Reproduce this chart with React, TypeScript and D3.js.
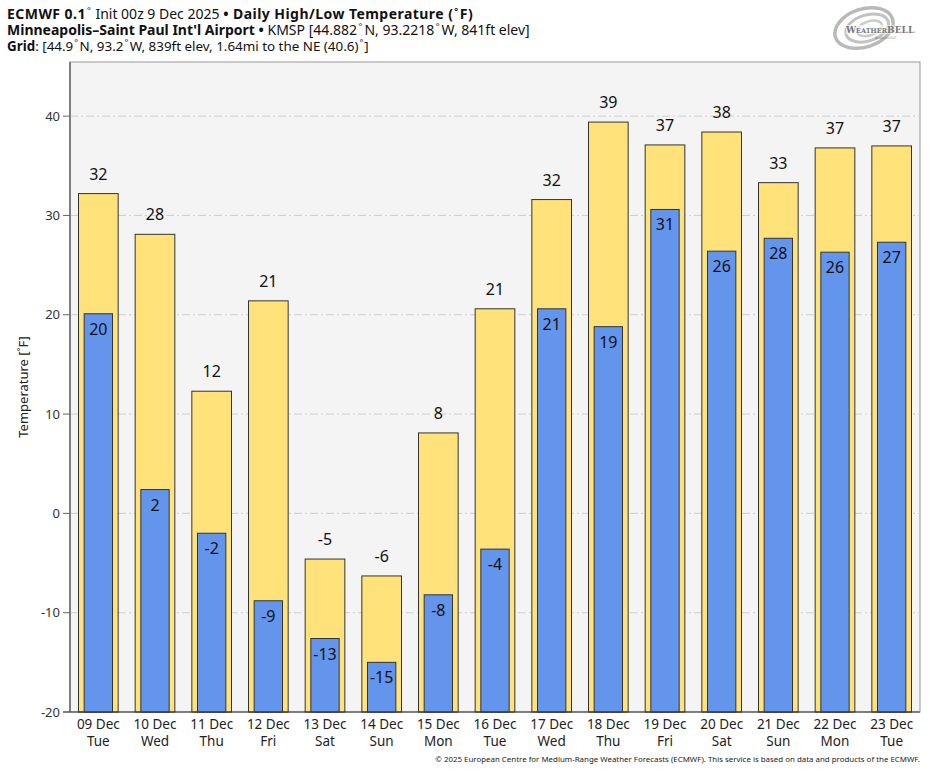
import React from "react";
import * as d3 from "d3";

const days = ["09 Dec", "10 Dec", "11 Dec", "12 Dec", "13 Dec", "14 Dec", "15 Dec", "16 Dec", "17 Dec", "18 Dec", "19 Dec", "20 Dec", "21 Dec", "22 Dec", "23 Dec"];
const weekdays = ["Tue", "Wed", "Thu", "Fri", "Sat", "Sun", "Mon", "Tue", "Wed", "Thu", "Fri", "Sat", "Sun", "Mon", "Tue"];
const highs = [32.2, 28.1, 12.3, 21.4, -4.6, -6.3, 8.1, 20.6, 31.6, 39.4, 37.1, 38.4, 33.3, 36.8, 37.0];
const lows = [20.1, 2.4, -2.0, -8.8, -12.6, -15.0, -8.2, -3.6, 20.6, 18.8, 30.6, 26.4, 27.7, 26.3, 27.3];
const yTicks = [-20, -10, 0, 10, 20, 30, 40];

const W = 929;
const H = 770;
const L = 70, R = 920, T = 62, B = 712;
const FONT = "'Noto Sans', 'Open Sans', sans-serif";

export default function App() {
  const x = d3.scaleBand<string>().domain(days).range([L, R]).paddingInner(0).paddingOuter(0);
  const y = d3.scaleLinear().domain([-20, 45.45]).range([B, T]);
  const bw = x.bandwidth();
  const hiW = bw * 0.7;
  const loW = bw * 0.5;
  const y0 = y(-20);

  return (
    <svg width={W} height={H} style={{ position: "absolute", left: 0, top: 0, background: "#fff" }} fontFamily={FONT}>
      {/* Title line 1 */}
      <text x={7} y={19} fontSize={14} fill="#111">
        <tspan fontWeight="bold" letterSpacing={0.45}>ECMWF 0.1</tspan>
        <tspan fontSize={9} dy={-5} dx={1}>°</tspan>
        <tspan dy={5} dx={1}> Init 00z 9 Dec 2025 </tspan>
        <tspan fontWeight="bold" letterSpacing={0.45}>• Daily High/Low Temperature (</tspan>
        <tspan fontWeight="bold" fontSize={9} dy={-5} dx={1}>°</tspan>
        <tspan fontWeight="bold" dy={5} dx={1.5} letterSpacing={0.45}>F)</tspan>
      </text>
      {/* Title line 2 */}
      <text x={7} y={35} fontSize={14} fill="#111">
        <tspan fontWeight="bold">Minneapolis–Saint Paul Int'l Airport •</tspan>
        <tspan> KMSP [44.882</tspan>
        <tspan fontSize={9} dy={-5} dx={1.5}>°</tspan>
        <tspan dy={5} dx={2}>N, 93.2218</tspan>
        <tspan fontSize={9} dy={-5} dx={1.5}>°</tspan>
        <tspan dy={5} dx={2}>W, 841ft elev]</tspan>
      </text>
      {/* Title line 3 */}
      <text x={7} y={51} fontSize={13.4} fill="#111">
        <tspan fontWeight="bold">Grid</tspan>
        <tspan>: [44.9</tspan>
        <tspan fontSize={9} dy={-5} dx={1}>°</tspan>
        <tspan dy={5} dx={1.5}>N, 93.2</tspan>
        <tspan fontSize={9} dy={-5} dx={1}>°</tspan>
        <tspan dy={5} dx={1.5}>W, 839ft elev, 1.64mi to the NE (40.6)</tspan>
        <tspan fontSize={9} dy={-5} dx={1}>°</tspan>
        <tspan dy={5} dx={1}>]</tspan>
      </text>

      {/* Logo */}
      <g transform="translate(864,28)" opacity={0.8}>
        <ellipse cx={0} cy={0} rx={30} ry={19} fill="none" stroke="#a8a8a8" strokeWidth={3.5} transform="rotate(-18)" />
        <ellipse cx={3} cy={1} rx={22} ry={13} fill="none" stroke="#b4b4b4" strokeWidth={3} transform="rotate(-18)" />
        <ellipse cx={5} cy={2} rx={13} ry={7} fill="none" stroke="#c0c0c0" strokeWidth={2.5} transform="rotate(-18)" />
        <rect x={-18} y={-3} width={48} height={9} fill="#fff" opacity={0.6} />
        <text x={-18} y={5} fontSize={9} fontWeight="bold" fill="#555" fontFamily="'DejaVu Serif', serif">W<tspan fontSize={6.5}>EATHER</tspan>BELL</text>
        <text x={11} y={11} fontSize={3.5} fill="#666">Analytics LLC</text>
      </g>

      {/* Plot background */}
      <rect x={L} y={T} width={R - L} height={B - T} fill="#f4f4f4" stroke="#999" strokeWidth={1} />

      {/* Grid */}
      {yTicks.map((t) => (
        <line key={"g" + t} x1={L} x2={R} y1={y(t)} y2={y(t)} stroke="#cfcfcf" strokeWidth={1} strokeDasharray="8,3,2,3" />
      ))}

      {/* High bars */}
      {days.map((d, i) => (
        <rect key={"h" + d} x={(x(d) as number) + (bw - hiW) / 2} y={Math.min(y(highs[i]), y0)} width={hiW} height={Math.abs(y0 - y(highs[i]))} fill="#ffe27a" stroke="#333" strokeWidth={1} />
      ))}
      {/* Low bars */}
      {days.map((d, i) => (
        <rect key={"l" + d} x={(x(d) as number) + (bw - loW) / 2} y={Math.min(y(lows[i]), y0)} width={loW} height={Math.abs(y0 - y(lows[i]))} fill="#6495ed" stroke="#333" strokeWidth={1} />
      ))}

      {/* High labels */}
      {days.map((d, i) => (
        <text key={"ht" + d} x={(x(d) as number) + bw / 2} y={y(highs[i]) - 14} fontSize={16} textAnchor="middle" fill="#111">
          {Math.round(highs[i])}
        </text>
      ))}
      {/* Low labels */}
      {days.map((d, i) => (
        <text key={"lt" + d} x={(x(d) as number) + bw / 2} y={y(lows[i]) + 21} fontSize={16} textAnchor="middle" fill="#111">
          {Math.round(lows[i])}
        </text>
      ))}

      {/* Axes */}
      <line x1={L} x2={L} y1={T} y2={B} stroke="#666" strokeWidth={1.5} />
      <line x1={L - 7} x2={R} y1={B} y2={B} stroke="#333" strokeWidth={1.2} />
      {yTicks.map((t) => (
        <g key={"t" + t}>
          <line x1={L - 7} x2={L} y1={y(t)} y2={y(t)} stroke="#666" strokeWidth={1} />
          <text x={L - 10} y={y(t) + 4.5} fontSize={13} textAnchor="end" fill="#333">
            {t}
          </text>
        </g>
      ))}
      <text transform={`translate(28,${(T + B) / 2}) rotate(-90)`} fontSize={13} textAnchor="middle" fill="#222">
        <tspan>Temperature [</tspan>
        <tspan fontSize={9} dy={-4}>°</tspan>
        <tspan dy={4}>F]</tspan>
      </text>

      {days.map((d, i) => (
        <g key={"xl" + d}>
          <text x={(x(d) as number) + bw / 2} y={729} fontSize={13.5} textAnchor="middle" fill="#222">
            {d}
          </text>
          <text x={(x(d) as number) + bw / 2} y={746} fontSize={13.5} textAnchor="middle" fill="#222">
            {weekdays[i]}
          </text>
        </g>
      ))}

      <text x={R} y={762} fontSize={7.9} textAnchor="end" fill="#222">
        © 2025 European Centre for Medium-Range Weather Forecasts (ECMWF). This service is based on data and products of the ECMWF.
      </text>
    </svg>
  );
}
